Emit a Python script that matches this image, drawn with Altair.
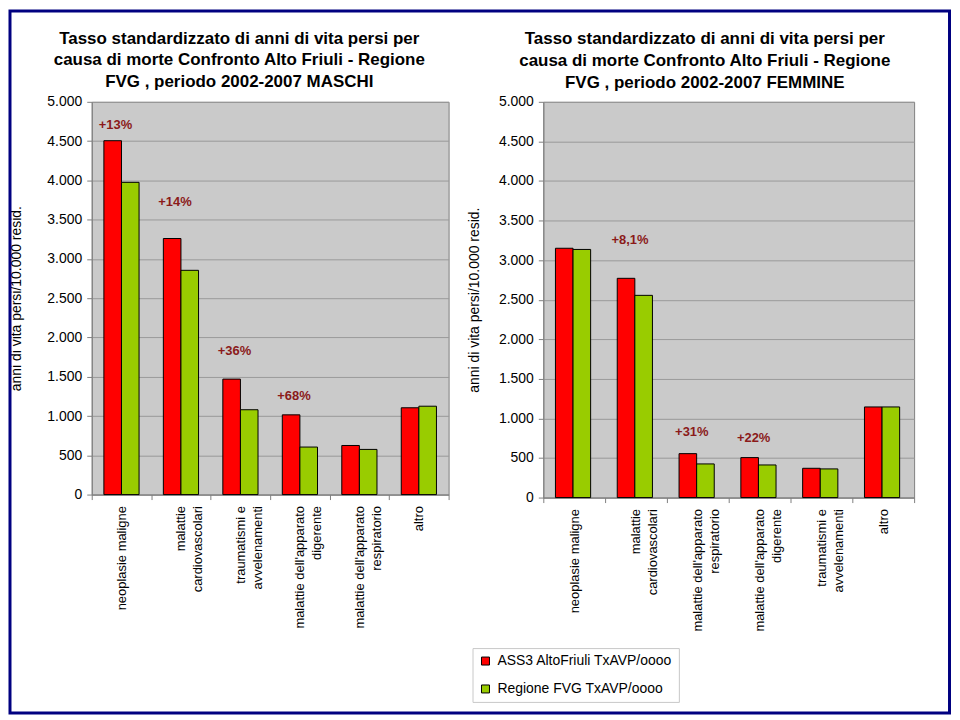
import altair as alt
import pandas as pd

FONT = "Liberation Sans"
NAVY = "#000080"
GRAY = "#808080"

series = ["ASS3 AltoFriuli TxAVP/oooo", "Regione FVG TxAVP/oooo"]
series_colors = ["#FF0000", "#99CC00"]
y_ticks = list(range(0, 5001, 500))
y_title = "anni di vita persi/10.000 resid."

# MASCHI
categories_m = ["neoplasie maligne", "malattie\ncardiovascolari", "traumatismi e\navvelenamenti",
                "malattie dell'apparato\ndigerente", "malattie dell'apparato\nrespiratorio", "altro"]
ass3_m = [4505, 3260, 1470, 1015, 625, 1105]
fvg_m = [3975, 2855, 1080, 605, 575, 1125]
label_cats_m = ["neoplasie maligne", "malattie\ncardiovascolari", "traumatismi e\navvelenamenti",
                "malattie dell'apparato\ndigerente"]
labels_m = ["+13%", "+14%", "+36%", "+68%"]
label_vals_m = [4700, 3725, 1830, 1255]
title_m = ["Tasso standardizzato di anni di vita persi per",
           "causa di morte Confronto Alto Friuli - Regione",
           "FVG , periodo 2002-2007  MASCHI"]

# FEMMINE
categories_f = ["neoplasie maligne", "malattie\ncardiovascolari", "malattie dell'apparato\nrespiratorio",
                "malattie dell'apparato\ndigerente", "traumatismi e\navvelenamenti", "altro"]
ass3_f = [3150, 2770, 555, 505, 370, 1145]
fvg_f = [3135, 2555, 425, 412, 362, 1145]
label_cats_f = ["malattie\ncardiovascolari", "malattie dell'apparato\nrespiratorio",
                "malattie dell'apparato\ndigerente"]
labels_f = ["+8,1%", "+31%", "+22%"]
label_vals_f = [3250, 825, 750]
title_f = ["Tasso standardizzato di anni di vita persi per",
           "causa di morte Confronto Alto Friuli - Regione",
           "FVG , periodo 2002-2007  FEMMINE"]


def outer_frame(x1, x2, y1, y2):
    # decorative navy border around the whole figure (no data)
    return alt.Chart(alt.Data(values=[{}])).mark_rect(
        fillOpacity=0, stroke=NAVY, strokeWidth=3
    ).encode(x=alt.value(x1), x2=alt.value(x2), y=alt.value(y1), y2=alt.value(y2))


def panel(cats, a, b, lab_cats, lab_txt, lab_vals, title, w, h, title_dx, title_offset,
          ytitle_x, legend, extra):
    n = len(cats)
    df = pd.DataFrame({
        "cat": cats * 2,
        "series": [series[0]] * n + [series[1]] * n,
        "value": a + b,
    })
    ldf = pd.DataFrame({"cat": lab_cats, "txt": lab_txt, "value": lab_vals})

    x = alt.X(
        "cat:N", sort=cats,
        scale=alt.Scale(paddingInner=0, paddingOuter=0),
        axis=alt.Axis(
            title=None, labelAngle=270, labelAlign="right", labelBaseline="middle",
            labelExpr="split(datum.label, '\\n')", labelFont=FONT, labelFontSize=13,
            labelLineHeight=17, labelPadding=6, labelColor="black", labelLimit=300,
            tickBand="extent", tickSize=5, tickColor=GRAY, domainColor=GRAY, grid=False,
        ),
    )
    y = alt.Y(
        "value:Q",
        scale=alt.Scale(domain=[0, 5000], nice=False),
        axis=alt.Axis(
            values=y_ticks, labelExpr="replace(format(datum.value, ','), ',', '.')",
            labelOverlap=False, labelFont=FONT, labelFontSize=14, labelColor="black",
            labelPadding=5, tickColor=GRAY, tickSize=5, domainColor=GRAY, gridColor="#9A9A9A",
            title=y_title, titleFont=FONT, titleFontSize=14, titleFontWeight="normal",
            titleColor="black", titleX=ytitle_x, titleY=h / 2, titleAngle=270,
            titleAlign="center", titleBaseline="middle",
        ),
    )
    bars = alt.Chart(df).mark_bar(stroke="black", strokeWidth=1).encode(
        x=x,
        xOffset=alt.XOffset("series:N", sort=series,
                            scale=alt.Scale(paddingOuter=0.69, paddingInner=0)),
        y=y,
        color=alt.Color("series:N", sort=series,
                        scale=alt.Scale(domain=series, range=series_colors),
                        legend=legend),
    )
    text = alt.Chart(ldf).mark_text(
        font=FONT, fontSize=13, fontWeight="bold", color="#8B1A1A", dx=-6, baseline="middle"
    ).encode(x=x, y=y, text="txt:N")

    return alt.layer(bars, text, *extra).properties(
        width=w, height=h,
        title=alt.TitleParams(
            text=title, frame="group", anchor="middle", dx=title_dx, offset=title_offset,
            font=FONT, fontSize=17, fontWeight="bold", color="black", lineHeight=22,
            baseline="bottom",
        ),
    )


legend_f = alt.Legend(
    title=None, orient="none", legendX=-71, legendY=548, direction="vertical",
    fillColor="white", strokeColor="#C8C8C8", padding=6, rowPadding=14, labelOffset=5,
    labelFont=FONT, labelFontSize=14, labelColor="black", labelLimit=400,
    symbolType="square", symbolSize=64, symbolStrokeColor="black", symbolStrokeWidth=1,
    symbolOpacity=1,
)

left = panel(categories_m, ass3_m, fvg_m, label_cats_m, labels_m, label_vals_m, title_m,
             358, 394, -31, -99, -75, None, [outer_frame(-82, 860.5, -91, 613)])
right = panel(categories_f, ass3_f, fvg_f, label_cats_f, labels_f, label_vals_f, title_f,
              372, 397, -24, -14, -69, legend_f, [])

chart = alt.hconcat(left, right, spacing=95, bounds="flush").resolve_scale(
    color="independent", x="independent", y="independent"
).properties(padding=0).configure_view(fill="#CACACA", stroke=GRAY, strokeWidth=1)

chart.save("out.html", embed_options={"renderer": "svg", "actions": False})
